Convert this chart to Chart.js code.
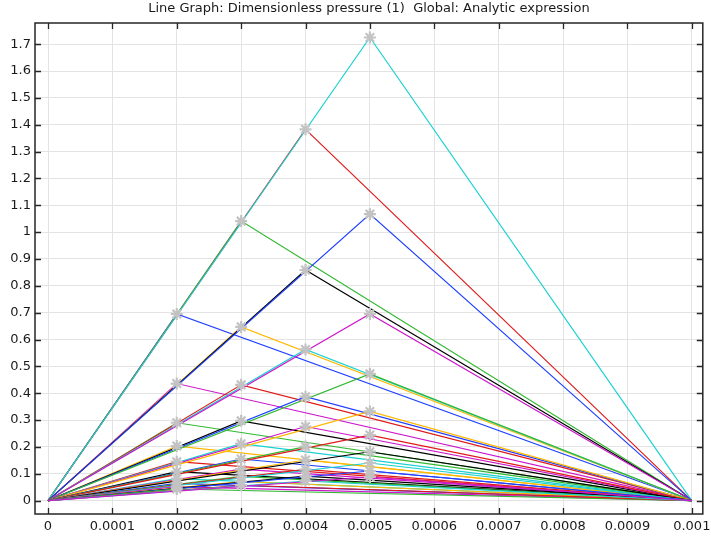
<!DOCTYPE html>
<html>
<head>
<meta charset="utf-8">
<script src="https://cdn.jsdelivr.net/npm/chart.js@4"></script>
<style>
  html, body { margin: 0; padding: 0; background: #ffffff; }
  #wrap { width: 711px; height: 539px; }
</style>
</head>
<body>
<div id="wrap"><canvas id="c" width="711" height="539"></canvas></div>
<script>
// ---- data ----
const titleText = 'Line Graph: Dimensionless pressure (1)  Global: Analytic expression';
const xStart = 0;
const xEnd = 0.001;
const peakPositions = [0.0002, 0.0003, 0.0004, 0.0005];
// peak values of each curve (one entry per parameter value, largest first)
const peaksAt0002 = [0.695, 0.436, 0.290, 0.203, 0.145, 0.108, 0.082, 0.064, 0.052, 0.043];
const peaksAt0003 = [1.041, 0.647, 0.431, 0.297, 0.212, 0.155, 0.117, 0.090, 0.071, 0.057];
const peaksAt0004 = [1.383, 0.859, 0.563, 0.387, 0.276, 0.201, 0.151, 0.116, 0.091, 0.073];
const peaksAt0005 = [1.725, 1.067, 0.695, 0.472, 0.332, 0.244, 0.182, 0.140, 0.110, 0.088];
const xTickValues = [0, 0.0001, 0.0002, 0.0003, 0.0004, 0.0005, 0.0006, 0.0007, 0.0008, 0.0009, 0.001];
const xTickLabels = ['0', '0.0001', '0.0002', '0.0003', '0.0004', '0.0005', '0.0006', '0.0007', '0.0008', '0.0009', '0.001'];
const yTickValues = [0, 0.1, 0.2, 0.3, 0.4, 0.5, 0.6, 0.7, 0.8, 0.9, 1, 1.1, 1.2, 1.3, 1.4, 1.5, 1.6, 1.7];
const yTickLabels = ['0', '0.1', '0.2', '0.3', '0.4', '0.5', '0.6', '0.7', '0.8', '0.9', '1', '1.1', '1.2', '1.3', '1.4', '1.5', '1.6', '1.7'];
const colorCycle = ['#2040ff', '#33b833', '#e01a1a', '#1ad1d1', '#cc18cc', '#ffb800', '#000000'];

// ---- build datasets ----
const peakTable = [peaksAt0002, peaksAt0003, peaksAt0004, peaksAt0005];
const datasets = [];
const markerPoints = [];
let idx = 0;
for (let k = 0; k < peaksAt0002.length; k++) {
  for (let j = 0; j < peakPositions.length; j++) {
    const px = peakPositions[j];
    const py = peakTable[j][k];
    datasets.push({
      data: [{x: xStart, y: 0}, {x: px, y: py}, {x: xEnd, y: 0}],
      showLine: true,
      borderColor: colorCycle[idx % colorCycle.length],
      backgroundColor: colorCycle[idx % colorCycle.length],
      borderWidth: 1.15,
      pointRadius: 0,
      pointHoverRadius: 0,
      fill: false,
      tension: 0,
      order: -idx
    });
    markerPoints.push({x: px, y: py});
    idx++;
  }
}
datasets.push({
  data: markerPoints,
  showLine: false,
  pointStyle: 'star',
  pointRadius: 6,
  pointHoverRadius: 6,
  pointBorderWidth: 2.2,
  pointBorderColor: '#c3c3c3',
  pointBackgroundColor: '#c3c3c3',
  order: -1000
});

// ---- frame and inside ticks ----
const framePlugin = {
  id: 'frame',
  afterDatasetsDraw(chart) {
    const ctx = chart.ctx;
    const a = chart.chartArea;
    const xs = chart.scales.x, ys = chart.scales.y;
    ctx.save();
    ctx.strokeStyle = '#262626';
    ctx.lineWidth = 1.5;
    ctx.strokeRect(a.left, a.top, a.right - a.left, a.bottom - a.top);
    ctx.beginPath();
    const tl = 6;
    xTickValues.forEach(v => {
      const p = Math.round(xs.getPixelForValue(v)) + 0.5;
      ctx.moveTo(p, a.bottom); ctx.lineTo(p, a.bottom - tl);
      ctx.moveTo(p, a.top); ctx.lineTo(p, a.top + tl);
    });
    yTickValues.forEach(v => {
      const p = Math.round(ys.getPixelForValue(v)) + 0.5;
      ctx.moveTo(a.left, p); ctx.lineTo(a.left + tl, p);
      ctx.moveTo(a.right, p); ctx.lineTo(a.right - tl, p);
    });
    ctx.lineWidth = 1.3;
    ctx.stroke();
    ctx.restore();
  }
};

new Chart(document.getElementById('c'), {
  type: 'scatter',
  data: { datasets },
  plugins: [framePlugin],
  options: {
    responsive: false,
    devicePixelRatio: 1,
    animation: false,
    events: [],
    layout: { padding: { left: 0, right: 7, top: 0, bottom: 0 } },
    plugins: {
      legend: { display: false },
      tooltip: { enabled: false },
      title: {
        display: true,
        text: titleText,
        fullSize: false,
        color: '#1a1a1a',
        font: { family: 'DejaVu Sans', size: 13, weight: 'normal', lineHeight: 1.2 },
        padding: { top: 0.5, bottom: 6.9 }
      }
    },
    scales: {
      x: {
        type: 'linear',
        min: -0.0000202,
        max: 0.0010171,
        afterBuildTicks(scale) { scale.ticks = xTickValues.map(v => ({ value: v })); },
        afterFit(scale) { scale.height = 25; scale.paddingLeft = 0; scale.paddingRight = 0; },
        grid: { color: '#e3e3e3', lineWidth: 1, drawTicks: false },
        border: { display: false },
        ticks: {
          autoSkip: false,
          maxRotation: 0,
          padding: 5,
          color: '#1a1a1a',
          font: { family: 'DejaVu Sans', size: 13 },
          callback: (v, i) => xTickLabels[i]
        }
      },
      y: {
        type: 'linear',
        min: -0.05,
        max: 1.779,
        afterBuildTicks(scale) { scale.ticks = yTickValues.map(v => ({ value: v })); },
        afterFit(scale) { scale.width = 35; scale.paddingTop = 0; scale.paddingBottom = 0; },
        grid: { color: '#e3e3e3', lineWidth: 1, drawTicks: false },
        border: { display: false },
        ticks: {
          autoSkip: false,
          padding: 4,
          color: '#1a1a1a',
          font: { family: 'DejaVu Sans', size: 13 },
          callback: (v, i) => yTickLabels[i]
        }
      }
    }
  }
});
</script>
</body>
</html>
